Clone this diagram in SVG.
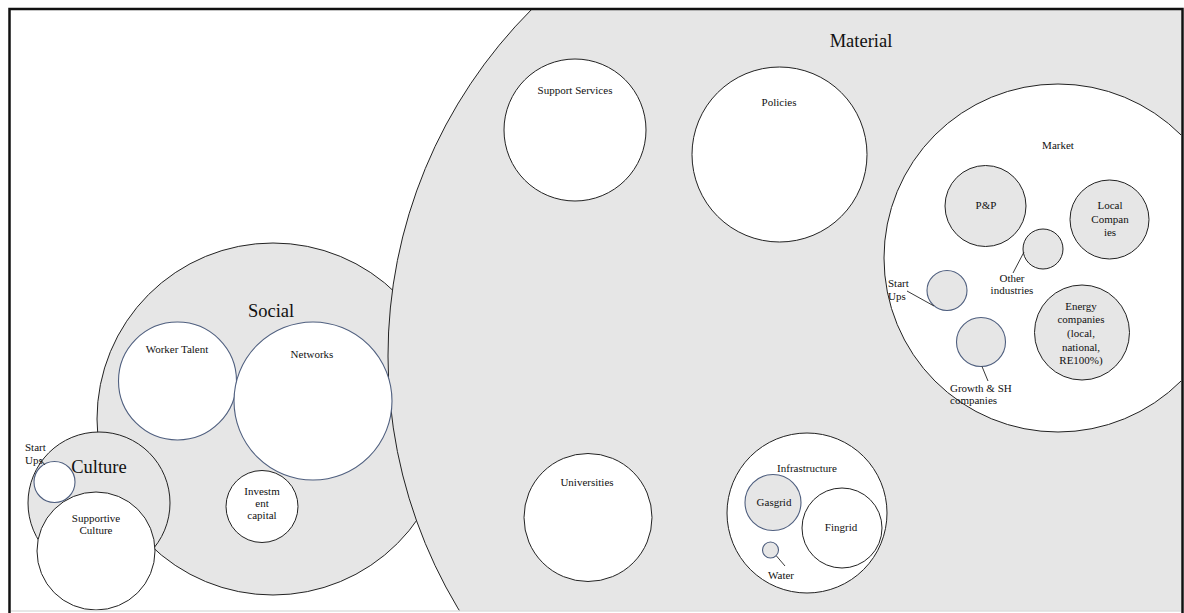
<svg xmlns="http://www.w3.org/2000/svg" width="1184" height="613" viewBox="0 0 1184 613">
  <style>
    text { font-family: "Liberation Serif", "Times New Roman", serif; fill: #111; text-anchor: middle; }
    .sm { font-size: 11px; }
    .lg { font-size: 18.5px; }
    .la { text-anchor: start; }
    .grey { fill: #e6e6e6; stroke: #222; stroke-width: 1; }
    .white { fill: #ffffff; stroke: #222; stroke-width: 1; }
    .greyb { fill: #e6e6e6; stroke: #4f5f7f; stroke-width: 1.1; }
    .whiteb { fill: #ffffff; stroke: #4f5f7f; stroke-width: 1.1; }
    .lead { stroke: #222; stroke-width: 0.9; fill: none; }
  </style>
  <defs>
    <clipPath id="frame">
      <rect x="11" y="10" width="1170" height="600.5"/>
    </clipPath>
  </defs>

  <rect x="0" y="0" width="1184" height="613" fill="#ffffff"/>

  <g clip-path="url(#frame)">
    <!-- Social sphere -->
    <g id="social">
      <circle class="grey" cx="273" cy="419" r="176"/>
      <text class="lg" x="271" y="317">Social</text>
    </g>

    <!-- Material sphere -->
    <g id="material">
      <circle class="grey" cx="878" cy="356" r="490"/>
      <text class="lg" x="861" y="47">Material</text>
    </g>

    <g id="support-services">
      <circle class="white" cx="575" cy="130" r="71"/>
      <text class="sm" x="575" y="94">Support Services</text>
    </g>

    <g id="policies">
      <circle class="white" cx="779.5" cy="154.5" r="87.5"/>
      <text class="sm" x="779" y="106">Policies</text>
    </g>

    <g id="universities">
      <circle class="white" cx="588" cy="517.5" r="64"/>
      <text class="sm" x="587" y="486">Universities</text>
    </g>

    <!-- Market and its members -->
    <g id="market">
      <circle class="white" cx="1058" cy="258" r="174"/>
      <text class="sm" x="1058" y="149">Market</text>
    </g>

    <g id="pp">
      <circle class="grey" cx="985.5" cy="206" r="40.5"/>
      <text class="sm" x="986" y="209">P&amp;P</text>
    </g>

    <g id="local-companies">
      <circle class="grey" cx="1109.5" cy="219.5" r="39.5"/>
      <text class="sm" x="1110" y="209">Local</text>
      <text class="sm" x="1110" y="223">Compan</text>
      <text class="sm" x="1110" y="236">ies</text>
    </g>

    <g id="other-industries">
      <circle class="grey" cx="1043" cy="249" r="20"/>
      <text class="sm" x="1012" y="282">Other</text>
      <text class="sm" x="1012" y="294">industries</text>
    </g>

    <g id="market-start-ups">
      <circle class="greyb" cx="947" cy="290.5" r="20"/>
      <text class="sm la" x="888" y="287">Start</text>
      <text class="sm la" x="888" y="300">Ups</text>
    </g>

    <g id="growth-sh">
      <circle class="greyb" cx="981" cy="342" r="24.5"/>
      <text class="sm la" x="950" y="392">Growth &amp; SH</text>
      <text class="sm la" x="950" y="404">companies</text>
    </g>

    <g id="energy-companies">
      <circle class="grey" cx="1082" cy="332.5" r="47.5"/>
      <text class="sm" x="1081" y="310">Energy</text>
      <text class="sm" x="1081" y="323">companies</text>
      <text class="sm" x="1081" y="337">(local,</text>
      <text class="sm" x="1081" y="351">national,</text>
      <text class="sm" x="1081" y="364">RE100%)</text>
    </g>

    <!-- Infrastructure and its members -->
    <g id="infrastructure">
      <circle class="white" cx="807" cy="513" r="80"/>
      <text class="sm" x="807" y="472">Infrastructure</text>
    </g>

    <g id="gasgrid">
      <circle class="greyb" cx="773" cy="502.5" r="28"/>
      <text class="sm" x="774" y="506">Gasgrid</text>
    </g>

    <g id="fingrid">
      <circle class="white" cx="842" cy="528" r="40"/>
      <text class="sm" x="841" y="531">Fingrid</text>
    </g>

    <g id="water">
      <circle class="greyb" cx="770.5" cy="550" r="8"/>
      <text class="sm" x="781" y="579">Water</text>
    </g>

    <!-- Social members -->
    <g id="worker-talent">
      <circle class="whiteb" cx="177.5" cy="381" r="59"/>
      <text class="sm" x="177" y="353">Worker Talent</text>
    </g>

    <g id="networks">
      <circle class="whiteb" cx="313" cy="401" r="79"/>
      <text class="sm" x="312" y="358">Networks</text>
    </g>

    <g id="investment-capital">
      <circle class="white" cx="262" cy="506.5" r="36"/>
      <text class="sm" x="262" y="495">Investm</text>
      <text class="sm" x="262" y="507">ent</text>
      <text class="sm" x="262" y="519">capital</text>
    </g>

    <!-- Culture and its members -->
    <g id="culture">
      <circle class="grey" cx="99" cy="503" r="71"/>
      <text class="lg" x="99" y="473">Culture</text>
    </g>

    <g id="culture-start-ups">
      <circle class="whiteb" cx="54.5" cy="482" r="20.5"/>
      <text class="sm la" x="25" y="451">Start</text>
      <text class="sm la" x="25" y="464">Ups</text>
    </g>

    <g id="supportive-culture">
      <circle class="white" cx="96" cy="551" r="59"/>
      <text class="sm" x="96" y="522">Supportive</text>
      <text class="sm" x="96" y="534">Culture</text>
    </g>

    <!-- label leader lines -->
    <g id="connectors">
      <line class="lead" x1="1024" y1="252" x2="1013" y2="273"/>
      <line class="lead" x1="907" y1="291" x2="934" y2="306"/>
      <line class="lead" x1="982" y1="366.5" x2="988" y2="381"/>
      <line class="lead" x1="776.5" y1="556" x2="785" y2="566"/>
      <line class="lead" x1="40" y1="459" x2="45" y2="465"/>
    </g>
  </g>

  <!-- page frame -->
  <line x1="11" y1="611" x2="1181" y2="611" stroke="#cfcfcf" stroke-width="1"/>
  <path d="M9.5,613 V9 H1182.5 V613" fill="none" stroke="#111" stroke-width="2.5"/>
</svg>
